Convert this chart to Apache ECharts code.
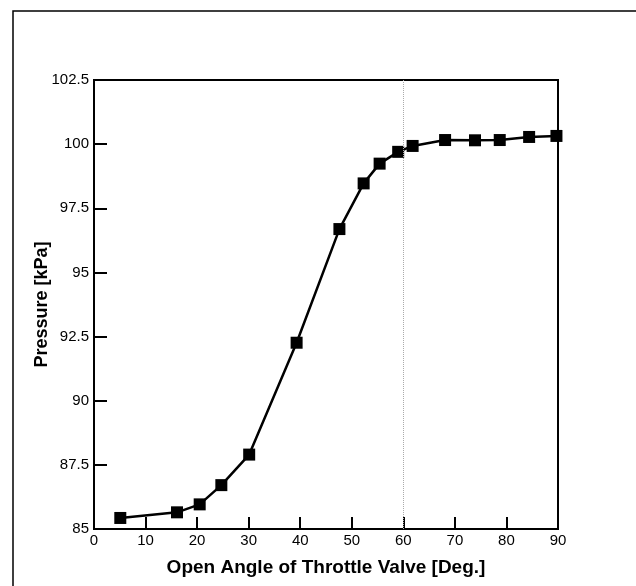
<!DOCTYPE html>
<html>
<head>
<meta charset="utf-8">
<script src="https://cdn.jsdelivr.net/npm/echarts@6/dist/echarts.min.js"></script>
<style>
  html, body { margin: 0; padding: 0; background: #fff; }
  #main { width: 636px; height: 586px; }
</style>
</head>
<body>
<div id="main"></div>
<script>
// open angle of throttle valve (deg) and measured pressure (kPa)
const angles = [5.1, 16.1, 20.5, 24.7, 30.1, 39.3, 47.6, 52.3, 55.4, 59.0, 61.8, 68.1, 73.9, 78.7, 84.4, 89.7];
const pressures = [85.43, 85.65, 85.96, 86.71, 87.90, 92.26, 96.69, 98.47, 99.24, 99.70, 99.93, 100.16, 100.15, 100.16, 100.28, 100.32];
const guideAngles = [60];

const xTitle = "Open Angle of Throttle Valve [Deg.]";
const yTitle = "Pressure [kPa]";

const chart = echarts.init(document.getElementById("main"));

const font = "'Liberation Sans', Arial, sans-serif";

const option = {
  animation: false,
  backgroundColor: "#fff",
  grid: {
    left: 94,
    top: 80,
    right: 78,
    bottom: 57,
    show: true,
    borderColor: "#000",
    borderWidth: 2,
    backgroundColor: "transparent"
  },
  // scanned page frame around the figure
  graphic: [
    {
      type: "polyline",
      shape: { points: [[13, 586], [13, 11], [636, 11]] },
      style: { stroke: "#000", lineWidth: 1.5, fill: null }
    }
  ],
  xAxis: {
    type: "value",
    min: 0,
    max: 90,
    interval: 10,
    name: xTitle,
    nameLocation: "middle",
    nameGap: 29,
    nameMoveOverlap: false,
    nameTextStyle: { color: "#000", fontSize: 19, fontWeight: "bold", fontFamily: font },
    axisLine: { lineStyle: { color: "#000", width: 2 } },
    axisTick: { inside: true, length: 12, lineStyle: { color: "#000", width: 2 } },
    axisLabel: { color: "#000", fontSize: 15, fontFamily: font, margin: 4 },
    splitLine: { show: false }
  },
  yAxis: {
    type: "value",
    min: 85,
    max: 102.5,
    interval: 2.5,
    name: yTitle,
    nameLocation: "middle",
    nameGap: 43,
    nameMoveOverlap: false,
    nameTextStyle: { color: "#000", fontSize: 18, fontWeight: "bold", fontFamily: font },
    axisLine: { lineStyle: { color: "#000", width: 2 } },
    axisTick: { inside: true, length: 13, lineStyle: { color: "#000", width: 2 } },
    axisLabel: { color: "#000", fontSize: 15, fontFamily: font, margin: 5 },
    splitLine: { show: false }
  },
  series: [
    {
      type: "line",
      data: angles.map((a, i) => [a, pressures[i]]),
      symbol: "rect",
      symbolSize: 12,
      itemStyle: { color: "#000" },
      lineStyle: { color: "#000", width: 2.5 },
      markLine: {
        silent: true,
        symbol: "none",
        label: { show: false },
        lineStyle: { color: "#aaa", type: "dotted", width: 1 },
        data: guideAngles.map(a => ({ xAxis: a }))
      }
    }
  ]
};

chart.setOption(option);
</script>
</body>
</html>
